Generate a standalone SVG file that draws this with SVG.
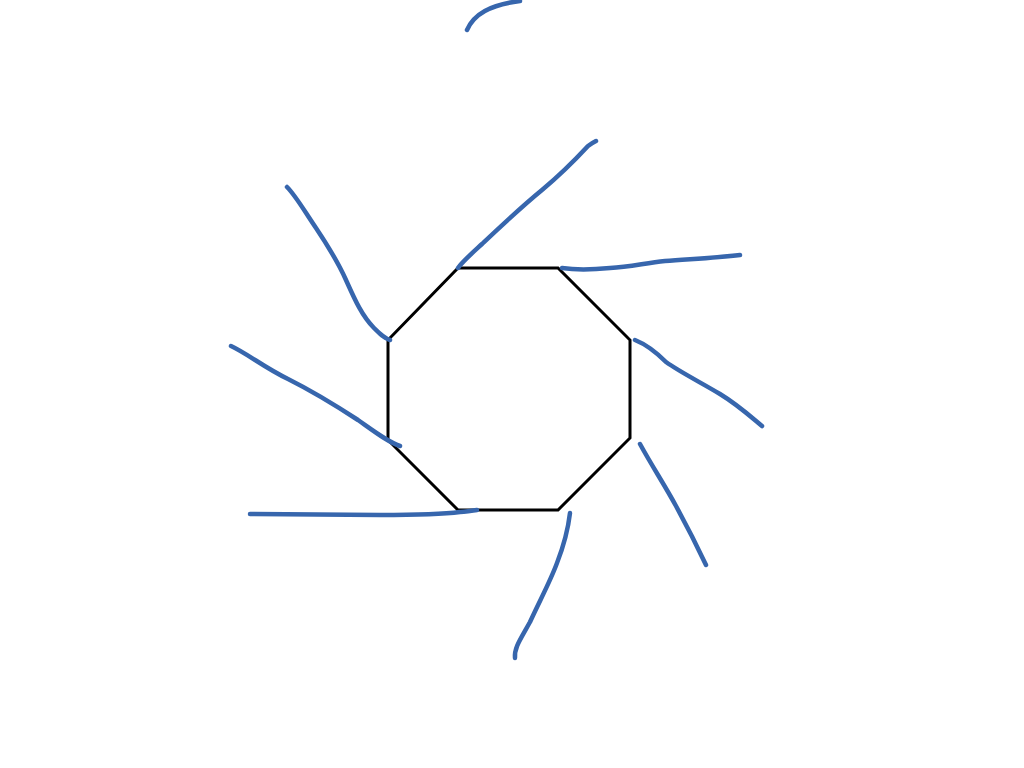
<svg xmlns="http://www.w3.org/2000/svg" width="1024" height="768" viewBox="0 0 1024 768">
<style>
.s{fill:none;stroke:#3766ad;stroke-width:4.5;stroke-linecap:round;stroke-linejoin:round}
.o{fill:none;stroke:#000;stroke-width:3;stroke-linejoin:miter}
</style>
<rect width="1024" height="768" fill="#fff"/>
<polygon class="o" points="458,268 558,268 630,340 630,438 558,510 458,510 388,440 388,340"/>
<g id="strokes">
<path class="s" d="M467,30 C474,14 490,5 520,1"/>
<path class="s" d="M458,268 C462,262 470,255 482,244 C500,227 520,208 542,190 C560,175 575,160 588,146 C592,143 594,142 596,141"/>
<path class="s" d="M562,268 C575,270 590,270 610,268 C630,267 645,263 665,261 C690,259 715,258 740,255"/>
<path class="s" d="M635,340 C645,344 656,352 666,362 C680,372 700,382 720,394 C738,405 750,416 762,426"/>
<path class="s" d="M640,444 C652,466 664,484 676,506 C688,528 698,548 706,565"/>
<path class="s" d="M570,513 C568,530 564,545 557,563 C550,582 540,600 530,622 C520,640 514,648 515,658"/>
<path class="s" d="M250,514 L380,515 C420,515 445,514 460,512 C468,511 472,511 477,510"/>
<path class="s" d="M231,346 C248,354 265,368 288,379 C312,391 335,405 358,420 C375,432 388,442 400,446"/>
<path class="s" d="M287,187 C296,196 305,212 316,228 C328,246 338,262 346,280 C355,300 362,316 374,328 C380,334 384,338 390,340"/>
</g>
</svg>
